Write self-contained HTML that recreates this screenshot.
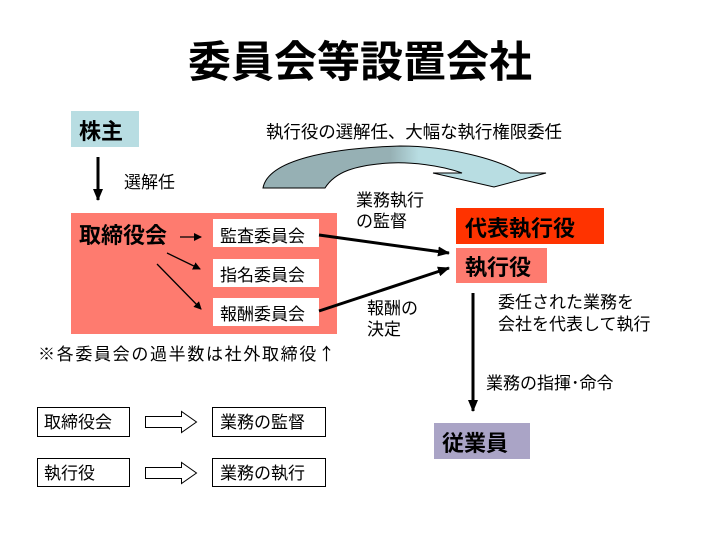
<!DOCTYPE html>
<html><head><meta charset="utf-8"><style>
html,body{margin:0;padding:0;background:#fff;}
svg{display:block;}
text{font-family:"Noto Sans CJK JP","Liberation Sans",sans-serif;fill:#000;}
</style></head><body>
<svg width="720" height="540" viewBox="0 0 720 540" xmlns="http://www.w3.org/2000/svg">
<defs>
<marker id="ah" markerWidth="8" markerHeight="8" refX="7" refY="4" orient="auto" markerUnits="userSpaceOnUse"><path d="M0,0 L8,4 L0,8 z" fill="#000"/></marker>
<marker id="ahs" markerWidth="12" markerHeight="10" refX="11" refY="5" orient="auto" markerUnits="userSpaceOnUse"><path d="M0,0 L12,5 L0,10 z" fill="#000"/></marker>
<linearGradient id="cg" x1="0" x2="1" y1="0" y2="0"><stop offset="0" stop-color="#96b0b4"/><stop offset="0.45" stop-color="#96b0b4"/><stop offset="0.55" stop-color="#b8dde2"/><stop offset="1" stop-color="#b8dde2"/></linearGradient>
</defs>
<text x="360" y="77" font-size="43" font-weight="bold" text-anchor="middle">委員会等設置会社</text>

<rect x="71" y="111" width="68" height="36" fill="#b8dde2"/>
<text x="79" y="139" font-size="22" font-weight="bold">株主</text>
<line x1="98" y1="157" x2="98" y2="200" stroke="#000" stroke-width="3" marker-end="url(#ahs)"/>
<text x="124" y="188" font-size="17">選解任</text>

<rect x="71" y="213" width="266" height="121" fill="#fe7b6f"/>
<text x="79" y="243" font-size="22" font-weight="bold">取締役会</text>
<line x1="180" y1="237" x2="201" y2="237" stroke="#000" stroke-width="1.3" marker-end="url(#ah)"/>
<line x1="167" y1="253" x2="200" y2="269" stroke="#000" stroke-width="1.3" marker-end="url(#ah)"/>
<line x1="157" y1="264" x2="201" y2="309" stroke="#000" stroke-width="1.3" marker-end="url(#ah)"/>
<rect x="213" y="219" width="106" height="28" fill="#fff"/>
<text x="220" y="242" font-size="17">監査委員会</text>
<rect x="213" y="259" width="106" height="28" fill="#fff"/>
<text x="220" y="281" font-size="17">指名委員会</text>
<rect x="213" y="298" width="106" height="28" fill="#fff"/>
<text x="220" y="320" font-size="17">報酬委員会</text>
<text x="38" y="360" font-size="17" textLength="297">※各委員会の過半数は社外取締役↑</text>

<text x="266" y="138" font-size="17.5" textLength="296">執行役の選解任、大幅な執行権限委任</text>
<path d="M263,188 C268,160 330,148 400,146 C450,146 500,160 520,173 L546,173 L494,187 L433,173 L462,173 C440,165 410,162 390,163 C355,165 335,172 325,188 Z" fill="url(#cg)" stroke="#000" stroke-width="1"/>

<text x="356" y="206" font-size="17">業務執行</text>
<text x="356" y="227" font-size="17">の監督</text>
<line x1="319" y1="235" x2="449" y2="253" stroke="#000" stroke-width="3" marker-end="url(#ahs)"/>
<line x1="319" y1="311" x2="449" y2="268" stroke="#000" stroke-width="3" marker-end="url(#ahs)"/>
<text x="367" y="314" font-size="17">報酬の</text>
<text x="367" y="335" font-size="17">決定</text>

<rect x="456" y="208" width="148" height="36" fill="#ff3300"/>
<text x="465" y="236" font-size="22" font-weight="bold">代表執行役</text>
<rect x="456" y="248" width="91" height="35" fill="#fe7b6f"/>
<text x="465" y="275" font-size="22" font-weight="bold">執行役</text>

<text x="498" y="308" font-size="17">委任された業務を</text>
<text x="498" y="330" font-size="17">会社を代表して執行</text>
<line x1="473" y1="293" x2="473" y2="411" stroke="#000" stroke-width="3" marker-end="url(#ahs)"/>
<text x="486" y="389" font-size="17">業務の指揮･命令</text>

<rect x="434" y="423" width="96" height="36" fill="#aaa4c6"/>
<text x="442" y="451" font-size="22" font-weight="bold">従業員</text>

<rect x="37.5" y="407.5" width="92" height="29" fill="#fff" stroke="#000"/>
<text x="44" y="428" font-size="17">取締役会</text>
<rect x="212.5" y="407.5" width="113" height="29" fill="#fff" stroke="#000"/>
<text x="220" y="428" font-size="17">業務の監督</text>
<path d="M145.5,416.5 L181.5,416.5 L181.5,411.5 L196.5,422 L181.5,432.5 L181.5,427.5 L145.5,427.5 Z" fill="#fff" stroke="#000"/>

<rect x="37.5" y="458.5" width="92" height="28" fill="#fff" stroke="#000"/>
<text x="44" y="479" font-size="17">執行役</text>
<rect x="212.5" y="458.5" width="113" height="28" fill="#fff" stroke="#000"/>
<text x="220" y="479" font-size="17">業務の執行</text>
<path d="M145.5,467.5 L181.5,467.5 L181.5,462.5 L196.5,473 L181.5,483.5 L181.5,478.5 L145.5,478.5 Z" fill="#fff" stroke="#000"/>
</svg>
</body></html>
